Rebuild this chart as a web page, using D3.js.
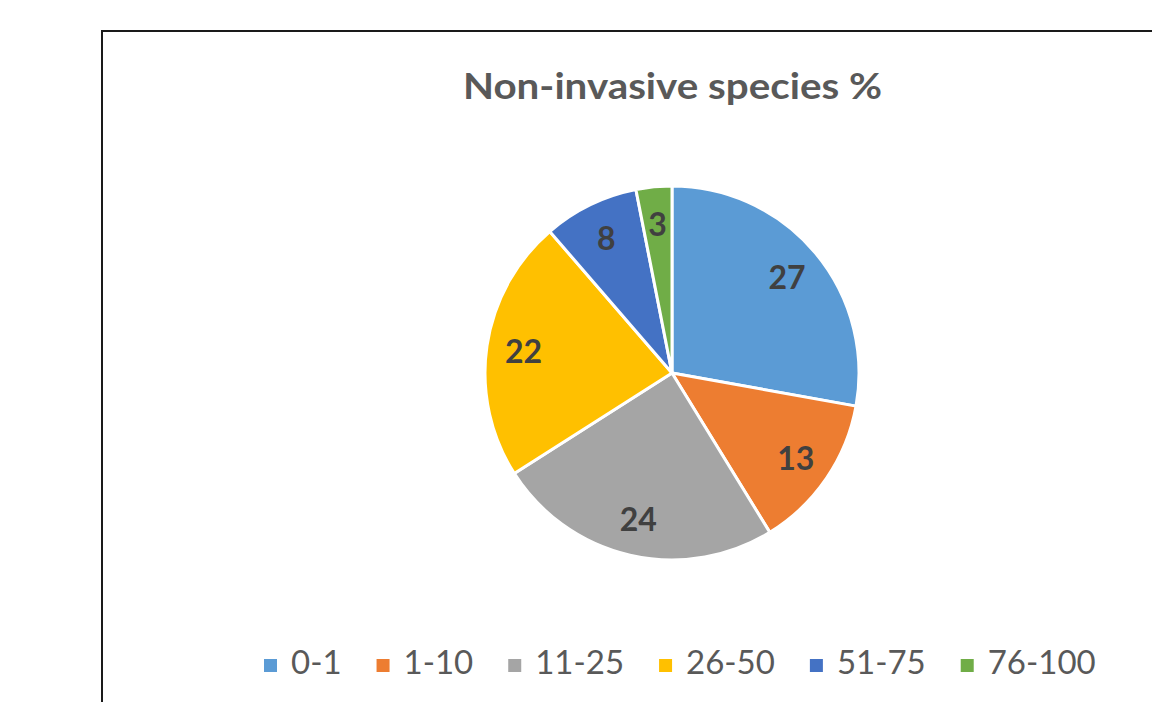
<!DOCTYPE html>
<html>
<head>
<meta charset="utf-8">
<script src="https://cdn.jsdelivr.net/npm/d3@7"></script>
<style>
  html, body { margin: 0; padding: 0; background: #ffffff; }
  svg { display: block; }
</style>
</head>
<body>
<svg id="chart" width="1152" height="702"></svg>
<script>
// Share of non-invasive species, grouped by cover class
const categories = ["0-1", "1-10", "11-25", "26-50", "51-75", "76-100"];
const values = [27, 13, 24, 22, 8, 3];
const colors = ["#5B9BD5", "#ED7D31", "#A5A5A5", "#FFC000", "#4472C4", "#70AD47"];
const title = "Non-invasive species %";

const svg = d3.select("#chart");
const W = 1152, H = 702;

svg.append("rect").attr("width", W).attr("height", H).attr("fill", "#ffffff");

// Chart frame (runs past the right and bottom edges)
svg.append("rect")
  .attr("x", 102).attr("y", 31)
  .attr("width", 1200).attr("height", 800)
  .attr("fill", "#ffffff")
  .attr("stroke", "#1a1a1a")
  .attr("stroke-width", 2);

// Title
svg.append("text")
  .attr("x", 463).attr("y", 99)
  .attr("textLength", 419)
  .attr("lengthAdjust", "spacingAndGlyphs")
  .attr("font-family", "Lato, 'Open Sans', sans-serif")
  .attr("font-weight", 700)
  .attr("font-size", 36)
  .attr("fill", "#595959")
  .text(title);

// Pie
const cx = 672, cy = 373, R = 187;
const color = d3.scaleOrdinal().domain(categories).range(colors);
const pie = d3.pie().sort(null).value(d => d.value);
const data = pie(categories.map((c, i) => ({ cat: c, value: values[i] })));
const arc = d3.arc().innerRadius(0).outerRadius(R);
const labelArc = d3.arc().innerRadius(150).outerRadius(150);

const g = svg.append("g").attr("transform", `translate(${cx},${cy})`);
g.selectAll("path.slice")
  .data(data)
  .join("path")
  .attr("class", "slice")
  .attr("d", arc)
  .attr("fill", d => color(d.data.cat))
  .attr("stroke", "#ffffff")
  .attr("stroke-width", 3)
  .attr("stroke-linejoin", "round");

g.selectAll("text.val")
  .data(data)
  .join("text")
  .attr("class", "val")
  .attr("transform", d => `translate(${labelArc.centroid(d)})`)
  .attr("text-anchor", "middle")
  .attr("dy", "0.38em")
  .attr("font-family", "Lato, 'Open Sans', sans-serif")
  .attr("font-weight", 700)
  .attr("font-size", 32)
  .attr("fill", "#404040")
  .text(d => d.data.value);

// Legend
const legend = svg.append("g");
let x = 264;
const baseY = 674;
categories.forEach((c, i) => {
  legend.append("rect")
    .attr("x", x).attr("y", 659)
    .attr("width", 13).attr("height", 13)
    .attr("fill", color(c));
  const t = legend.append("text")
    .attr("x", x + 27).attr("y", baseY)
    .attr("font-family", "Lato, 'Open Sans', sans-serif")
    .attr("font-size", 33)
    .attr("fill", "#595959")
    .text(c);
  x += 27 + t.node().getComputedTextLength() + 35;
});
</script>
</body>
</html>
